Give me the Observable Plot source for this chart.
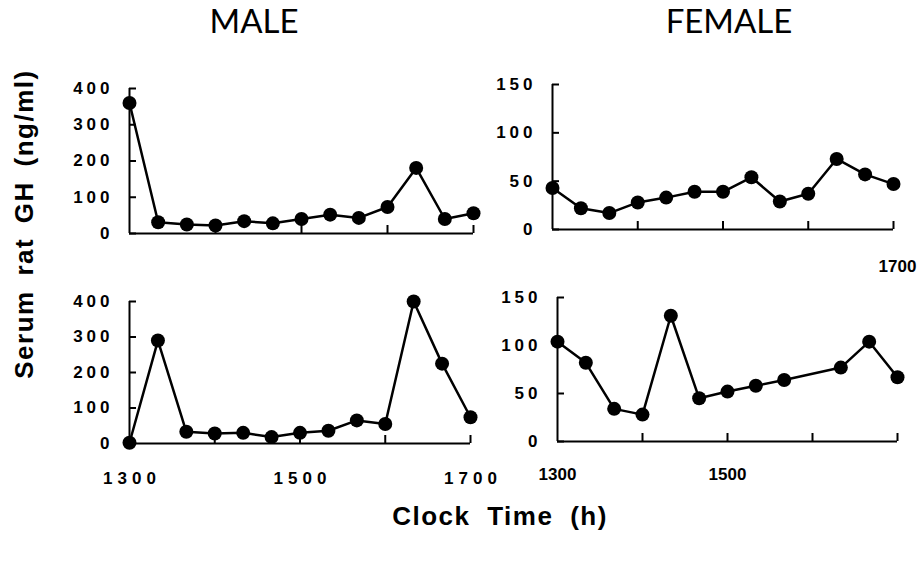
<!DOCTYPE html>
<html>
<head>
<meta charset="utf-8">
<script src="https://cdn.jsdelivr.net/npm/d3@7"></script>
<script src="https://cdn.jsdelivr.net/npm/@observablehq/plot@0.6"></script>
<style>
  html, body { margin: 0; padding: 0; background: #fff; }
  #chart { position: relative; width: 921px; height: 562px; background: #fff; overflow: hidden; font-family: "Liberation Sans", Arial, sans-serif; color: #000; }
  .title { position: absolute; font-family: Lato, "Open Sans", sans-serif; font-size: 33px; line-height: 1.2; white-space: nowrap; transform: translateX(-50%); }
  .ylab { position: absolute; font-weight: bold; font-size: 26px; line-height: 1; white-space: nowrap; letter-spacing: 1.5px; word-spacing: 6px; transform: translate(-50%, -50%) rotate(-90deg); }
  .xlab { position: absolute; font-weight: bold; font-size: 26px; line-height: 1; white-space: nowrap; letter-spacing: 1.5px; word-spacing: 8px; transform: translateX(-50%); }
  svg g[aria-label="y-axis tick label"] text { letter-spacing: 4px; }
  svg.spaced g[aria-label="x-axis tick label"] text { letter-spacing: 5px; }
</style>
</head>
<body>
<div id="chart"></div>
<script>
// ---- data ----
const times = ["1300","1320","1340","1400","1420","1440","1500","1520","1540","1600","1620","1640","1700"];
const timesFemaleBottom = ["1300","1320","1340","1400","1420","1440","1500","1520","1540","1620","1640","1700"];
const maleTop = [360, 31, 25, 22, 34, 28, 40, 52, 43, 73, 181, 40, 56];
const femaleTop = [43, 22, 17, 28, 33, 39, 39, 54, 29, 37, 73, 57, 47];
const maleBottom = [2, 290, 33, 28, 30, 18, 30, 36, 65, 55, 400, 225, 74];
const femaleBottom = [104, 82, 34, 28, 131, 45, 52, 58, 64, 77, 104, 67];
const maleTicks = [0, 100, 200, 300, 400];
const maleTickLabels = ["0", "100", "200", "300", "400"];
const femaleTicks = [0, 50, 100, 150];
const femaleTickLabels = ["0", "50", "100", "150"];
const hourTicks = ["1400", "1500", "1600", "1700"];
const titles = ["MALE", "FEMALE"];
const yTitle = "Serum rat GH (ng/ml)";
const xTitle = "Clock Time (h)";

const toHours = t => Math.floor(+t / 100) + (+t % 100) / 60;

const chart = document.getElementById("chart");
const ML = 70, MR = 30, MT = 40, MB = 50;

function panel({t, v, yMax, ticks, tickLabels, x0, x1, yTop, yBot, xLabels = [], xLabelPad = 28, spaced = false, topLabels = [], topPad = 21}) {
  const plotW = x1 - x0, plotH = yBot - yTop;
  const data = t.map((d, i) => ({h: toHours(d), v: v[i]}));
  const fmt = d => String(Math.round(d * 100));
  const marks = [
    Plot.ruleX([13], {y1: 0, y2: yMax, stroke: "black", strokeWidth: 2}),
    Plot.ruleY([0], {x1: 13, x2: 17, stroke: "black", strokeWidth: 2}),
    Plot.tickY(ticks, {y: d => d, stroke: "black", strokeWidth: 2, insetRight: plotW - 7}),
    Plot.tickX(hourTicks.map(toHours), {x: d => d, stroke: "black", strokeWidth: 2, insetTop: plotH - 8}),
    Plot.axisY(ticks, {anchor: "left", label: null, tickSize: 0, tickPadding: 16, fontSize: 17, fontWeight: "bold",
      tickFormat: d => tickLabels[ticks.indexOf(d)]}),
    Plot.line(data, {x: "h", y: "v", stroke: "black", strokeWidth: 2.5}),
    Plot.dot(data, {x: "h", y: "v", r: 7, fill: "black", stroke: "none"})
  ];
  if (xLabels.length) marks.push(Plot.axisX(xLabels.map(toHours), {anchor: "bottom", label: null, tickSize: 0, tickPadding: xLabelPad,
    fontSize: 17, fontWeight: "bold", dx: spaced ? 2.5 : 0, tickFormat: fmt}));
  if (topLabels.length) marks.push(Plot.axisX(topLabels.map(toHours), {anchor: "top", label: null, tickSize: 0, tickPadding: topPad,
    fontSize: 17, fontWeight: "bold", tickFormat: fmt}));
  const svg = Plot.plot({
    width: plotW + ML + MR, height: plotH + MT + MB,
    marginLeft: ML, marginRight: MR, marginTop: MT, marginBottom: MB,
    className: spaced ? "spaced" : "plain",
    x: {domain: [13, 17], axis: null},
    y: {domain: [0, yMax], axis: null},
    style: {position: "absolute", left: (x0 - ML) + "px", top: (yTop - MT) + "px", background: "transparent",
      overflow: "visible", color: "black", fontFamily: "'Liberation Sans', Arial, sans-serif"},
    marks
  });
  chart.appendChild(svg);
}

panel({t: times, v: maleTop, yMax: 400, ticks: maleTicks, tickLabels: maleTickLabels, x0: 129, x1: 473, yTop: 88, yBot: 233});
panel({t: times, v: femaleTop, yMax: 150, ticks: femaleTicks, tickLabels: femaleTickLabels, x0: 552, x1: 893, yTop: 84, yBot: 229});
panel({t: times, v: maleBottom, yMax: 400, ticks: maleTicks, tickLabels: maleTickLabels, x0: 129, x1: 470, yTop: 301, yBot: 443,
  xLabels: ["1300", "1500", "1700"], xLabelPad: 28, spaced: true});
panel({t: timesFemaleBottom, v: femaleBottom, yMax: 150, ticks: femaleTicks, tickLabels: femaleTickLabels, x0: 557, x1: 897, yTop: 297, yBot: 441,
  xLabels: ["1300", "1500"], xLabelPad: 26, topLabels: ["1700"], topPad: 26});

function addText(cls, text, left, top) {
  const d = document.createElement("div");
  d.className = cls; d.textContent = text;
  d.style.left = left + "px"; d.style.top = top + "px";
  chart.appendChild(d);
}
addText("title", titles[0], 254, 1);
addText("title", titles[1], 729, 1);
addText("ylab", yTitle, 24, 224);
addText("xlab", xTitle, 500, 503);
</script>
</body>
</html>
